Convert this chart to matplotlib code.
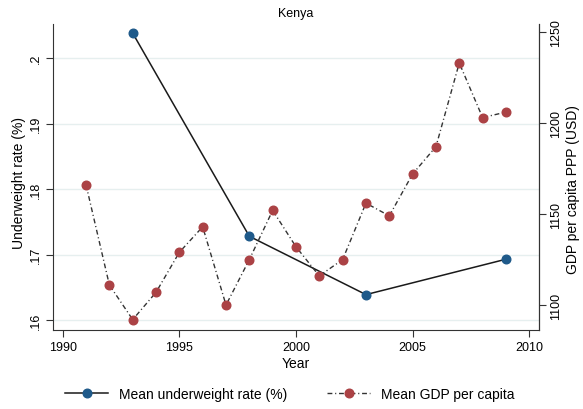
import matplotlib
matplotlib.use('Agg')
import matplotlib.pyplot as plt

plt.rcParams['font.family'] = ['Liberation Sans', 'DejaVu Sans']

uw_years = [1993, 1998, 2003, 2009]
uw_rate = [0.2038, 0.1728, 0.1639, 0.1693]

gdp_years = list(range(1991, 2010))
gdp_pc = [1166, 1111, 1092, 1107, 1129, 1143, 1100, 1125, 1152, 1132,
          1116, 1125, 1156, 1149, 1172, 1187, 1233, 1203, 1206]

uw_ticks = [0.16, 0.17, 0.18, 0.19, 0.2]
uw_tick_labels = ['.16', '.17', '.18', '.19', '.2']
gdp_ticks = [1100, 1150, 1200, 1250]
year_ticks = [1990, 1995, 2000, 2005, 2010]

blue = '#1f5a8a'
red = '#ab4245'

fig = plt.figure(figsize=(5.83, 4.10), dpi=100)
ax = fig.add_axes([0.0904, 0.1927, 0.8346, 0.7463])
ax2 = ax.twinx()

l1, = ax.plot(uw_years, uw_rate, color='#1a1a1a', linewidth=1.1, marker='o',
              markersize=6.2, markerfacecolor=blue, markeredgecolor=blue,
              label='Mean underweight rate (%)', zorder=3)
l2, = ax2.plot(gdp_years, gdp_pc, color='#333333', linewidth=1.0,
               linestyle=(0, (3.5, 2, 0.8, 2)), marker='o', markersize=6.2,
               markerfacecolor=red, markeredgecolor=red,
               label='Mean GDP per capita', zorder=3)

ax.set_xlim(1989.57, 2010.43)
ax.set_ylim(0.1585, 0.2052)
ax2.set_ylim(1086.3, 1254.4)

ax.set_xticks(year_ticks)
ax.set_yticks(uw_ticks)
ax.set_yticklabels(uw_tick_labels, rotation=90, va='center')
ax2.set_yticks(gdp_ticks)
ax2.set_yticklabels([str(t) for t in gdp_ticks], rotation=90, va='center')

ax.grid(axis='y', color='#e6efef', linewidth=1.0)
ax.set_axisbelow(True)

for a in (ax, ax2):
    a.spines['top'].set_visible(False)
    a.tick_params(labelsize=9, length=5, width=0.8, color='#333333', pad=3)
ax.spines['left'].set_color('#333333')
ax.spines['bottom'].set_color('#333333')
ax2.spines['right'].set_color('#333333')
ax2.spines['left'].set_visible(False)
ax2.spines['bottom'].set_visible(False)

ax.set_xlabel('Year', fontsize=10, labelpad=2)
ax.set_ylabel('Underweight rate (%)', fontsize=10)
ax.yaxis.set_label_coords(-0.055, 0.485)
ax2.set_ylabel('GDP per capita PPP (USD)', fontsize=10)
ax2.yaxis.set_label_coords(1.055, 0.462)
ax.set_title('Kenya', fontsize=9, pad=6)

fig.legend([l1, l2], [l1.get_label(), l2.get_label()], loc='center',
           bbox_to_anchor=(0.497, 0.037), ncol=2, frameon=False, fontsize=10,
           handlelength=3.1, handletextpad=0.75, columnspacing=2.9)

fig.savefig('out.png', dpi=100)
